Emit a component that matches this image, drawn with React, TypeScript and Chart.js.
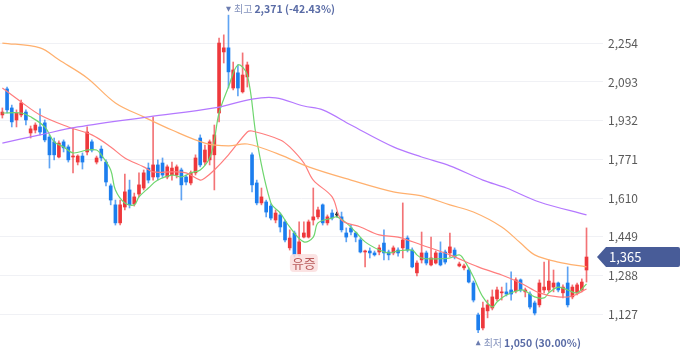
import React, { useEffect, useRef } from "react";
import { Chart, registerables } from "chart.js";
Chart.register(...registerables);

// Daily candles (KRW)
const OPEN = [
  1956, 2064, 1985, 1935, 1956, 1968, 1881, 1893, 1906, 1923,
  1864, 1844, 1781, 1844, 1823, 1781, 1760, 1785, 1802, 1844,
  1760, 1814, 1760, 1661, 1582, 1507, 1573, 1644, 1586, 1627,
  1652, 1735, 1698, 1748, 1756, 1698, 1706, 1706, 1727, 1698,
  1673, 1715, 1860, 1760, 1769, 1790, 1964, 2218, 2235, 2068,
  2131, 2052, 2114, 1790, 1673, 1590, 1594, 1577, 1519, 1540,
  1511, 1403, 1465, 1374, 1448, 1448, 1519, 1532, 1582, 1507,
  1548, 1540, 1532, 1465, 1486, 1465, 1436, 1386, 1390, 1382,
  1386, 1423, 1386, 1382, 1394, 1403, 1444, 1394, 1299, 1353,
  1382, 1332, 1340, 1382, 1386, 1382, 1394, 1328, 1320, 1311,
  1257, 1124, 1070, 1141, 1153, 1191, 1216, 1220, 1228, 1224,
  1270, 1220, 1211, 1174, 1166, 1228, 1228, 1240, 1257, 1216,
  1257, 1199, 1216, 1228, 1311,
];
const CLOSE = [
  1968, 1977, 1927, 1964, 2006, 1935, 1898, 1914, 1885, 1852,
  1790, 1790, 1839, 1819, 1769, 1785, 1785, 1760, 1885, 1810,
  1777, 1777, 1677, 1602, 1507, 1582, 1636, 1582, 1615, 1665,
  1715, 1685, 1748, 1698, 1706, 1740, 1735, 1740, 1665, 1677,
  1715, 1777, 1748, 1810, 1844, 1873, 2255, 2235, 2135, 2143,
  2068, 2122, 2164, 1665, 1590, 1615, 1552, 1527, 1548, 1490,
  1436, 1444, 1374, 1428, 1465, 1511, 1532, 1561, 1507, 1532,
  1527, 1540, 1478, 1448, 1469, 1448, 1386, 1390, 1382, 1374,
  1403, 1382, 1374, 1403, 1382, 1436, 1394, 1324, 1340, 1382,
  1340, 1361, 1382, 1332, 1344, 1407, 1365, 1336, 1328, 1261,
  1186, 1062, 1153, 1166, 1199, 1228, 1220, 1211, 1211, 1270,
  1228, 1228, 1157, 1132, 1257, 1240, 1265, 1257, 1228, 1240,
  1166, 1240, 1249, 1261, 1365,
];
const HIGH = [
  1985, 2072, 1997, 1977, 2018, 1977, 1910, 1923, 1981, 1935,
  1873, 1860, 1848, 1852, 1831, 1902, 1790, 1798, 1906, 1852,
  1785, 1827, 1769, 1669, 1602, 1602, 1710, 1685, 1631, 1715,
  1727, 1756, 1948, 1769, 1777, 1748, 1760, 1748, 1735, 1706,
  1723, 1790, 1873, 1831, 1852, 1914, 2276, 2289, 2371, 2176,
  2164, 2214, 2176, 1798, 1685, 1652, 1602, 1586, 1561, 1548,
  1519, 1478, 1473, 1511, 1511, 1519, 1652, 1573, 1586, 1540,
  1561, 1552, 1552, 1486, 1498, 1469, 1444, 1394, 1403, 1390,
  1415, 1478, 1394, 1411, 1403, 1590, 1453, 1403, 1349, 1469,
  1390, 1448, 1390, 1428, 1394, 1465, 1403, 1344, 1336, 1320,
  1265, 1132, 1178, 1186, 1228, 1240, 1240, 1257, 1303, 1278,
  1274, 1236, 1220, 1182, 1270, 1344, 1353, 1311, 1261, 1249,
  1324, 1249, 1257, 1274, 1486,
];
const LOW = [
  1943, 1964, 1906, 1906, 1948, 1914, 1860, 1881, 1873, 1844,
  1735, 1769, 1777, 1802, 1760, 1715, 1748, 1731, 1790, 1802,
  1752, 1765, 1661, 1582, 1498, 1498, 1561, 1569, 1577, 1615,
  1644, 1673, 1685, 1685, 1694, 1690, 1685, 1694, 1602, 1665,
  1665, 1706, 1740, 1748, 1748, 1644, 1927, 2172, 2068, 2060,
  2035, 2047, 2072, 1636, 1582, 1582, 1532, 1519, 1507, 1469,
  1428, 1394, 1365, 1369, 1444, 1444, 1498, 1523, 1498, 1498,
  1519, 1532, 1469, 1428, 1457, 1428, 1382, 1324, 1361, 1369,
  1374, 1353, 1353, 1374, 1369, 1361, 1386, 1320, 1286, 1340,
  1332, 1328, 1336, 1328, 1336, 1365, 1357, 1324, 1311, 1257,
  1178, 1050, 1062, 1112, 1145, 1182, 1186, 1203, 1186, 1216,
  1220, 1199, 1149, 1124, 1157, 1216, 1220, 1220, 1220, 1195,
  1157, 1191, 1207, 1220, 1261,
];

// Moving averages: [candle index, value]
const MA5: [number, number][] = [
  [0, 1964], [4, 1964], [6, 1948], [9, 1906], [11, 1844], [13, 1823], [15, 1798],
  [18, 1810], [20, 1810], [21, 1790], [23, 1727], [24, 1644], [26, 1590], [28, 1582],
  [29, 1615], [31, 1652], [33, 1685], [36, 1706], [38, 1698], [40, 1715], [42, 1727],
  [44, 1777], [45, 1852], [46, 1964], [48, 2072], [50, 2164], [52, 2122], [54, 1852],
  [57, 1590], [59, 1548], [61, 1490], [64, 1428], [66, 1448], [67, 1507], [70, 1527],
  [71, 1532], [73, 1507], [75, 1469], [77, 1428], [80, 1394], [82, 1382], [84, 1390],
  [87, 1394], [88, 1374], [89, 1361], [91, 1357], [95, 1361], [97, 1374], [98, 1353],
  [100, 1282], [102, 1199], [104, 1157], [105, 1178], [107, 1207], [110, 1228],
  [111, 1224], [113, 1199], [115, 1195], [116, 1216], [118, 1240], [120, 1228],
  [122, 1216], [124, 1253],
];
const MA20: [number, number][] = [
  [0, 2068], [4, 2010], [8, 1956], [14, 1906], [19, 1873], [23, 1823], [26, 1777],
  [30, 1740], [32, 1719], [36, 1719], [39, 1715], [42, 1685], [43, 1694], [45, 1727],
  [48, 1790], [52, 1885], [53, 1889], [59, 1852], [61, 1823], [64, 1756], [66, 1685],
  [70, 1615], [72, 1519], [76, 1490], [80, 1457], [84, 1448], [89, 1415], [95, 1374],
  [101, 1324], [106, 1290], [110, 1257], [114, 1216], [118, 1199], [121, 1203], [124, 1232],
];
const MA60: [number, number][] = [
  [0, 2255], [8, 2235], [12, 2185], [18, 2110], [24, 2006], [30, 1948], [36, 1893],
  [43, 1839], [48, 1827], [52, 1835], [59, 1790], [65, 1740], [74, 1685], [83, 1636],
  [89, 1619], [95, 1582], [100, 1552], [106, 1490], [110, 1423], [113, 1374],
  [118, 1344], [124, 1324],
];
const MA120: [number, number][] = [
  [0, 1839], [8, 1873], [16, 1906], [31, 1948], [45, 1985], [53, 2022], [58, 2027],
  [64, 1993], [68, 1977], [74, 1914], [83, 1823], [89, 1781], [95, 1744], [102, 1685],
  [107, 1652], [114, 1594], [124, 1540],
];

const Y_TICKS = [1127, 1288, 1449, 1610, 1771, 1932, 2093, 2254];
const EVENT_LABEL = "유증";
const EVENT_INDEX = 64;
const SLOTS = 128;

const FONT = '"Noto Sans CJK KR", "Noto Sans", sans-serif';
const UP = "rgb(238, 56, 60)";
const DOWN = "rgb(28, 126, 238)";
const FLAT = "rgb(60, 60, 60)";
const UP_W = "rgba(238, 56, 60, 0.7)";
const DOWN_W = "rgba(28, 126, 238, 0.7)";

const fmt = (v: number) => v.toLocaleString("en-US");

function marker(ctx: CanvasRenderingContext2D, cx: number, cy: number, down: boolean, label: string, value: string) {
  ctx.fillStyle = "#6b7cb0";
  ctx.beginPath();
  if (down) {
    ctx.moveTo(cx - 2.5, cy - 2.5);
    ctx.lineTo(cx + 2.5, cy - 2.5);
    ctx.lineTo(cx, cy + 2.5);
  } else {
    ctx.moveTo(cx - 2.5, cy + 2.5);
    ctx.lineTo(cx + 2.5, cy + 2.5);
    ctx.lineTo(cx, cy - 2.5);
  }
  ctx.closePath();
  ctx.fill();
  ctx.textBaseline = "middle";
  ctx.textAlign = "left";
  ctx.font = `10px ${FONT}`;
  ctx.fillStyle = "#8593bd";
  const x1 = cx + 5.5;
  ctx.fillText(label, x1, cy);
  const w = ctx.measureText(label).width;
  ctx.font = `bold 10.5px ${FONT}`;
  ctx.fillStyle = "#5a6ca6";
  ctx.fillText(value, x1 + w + 2, cy);
}

const annotPlugin = {
  id: "annot",
  afterDatasetsDraw(chart: any) {
    const { ctx, scales } = chart;
    const x = scales.x;
    const y = scales.y;
    const last = CLOSE[CLOSE.length - 1];
    const hi = Math.max(...HIGH);
    const hiIdx = HIGH.indexOf(hi);
    const lo = Math.min(...LOW);
    const loIdx = LOW.indexOf(lo);
    ctx.save();
    const pHi = (((last - hi) / hi) * 100).toFixed(2);
    const pLo = (((last - lo) / lo) * 100).toFixed(2);
    marker(ctx, x.getPixelForValue(hiIdx), y.getPixelForValue(hi) - 6, true, "최고", `${fmt(hi)} (${pHi}%)`);
    marker(ctx, x.getPixelForValue(loIdx), y.getPixelForValue(lo) + 10, false, "최저", `${fmt(lo)} (${pLo}%)`);

    // event label
    const ex = x.getPixelForValue(EVENT_INDEX);
    const ey = y.getPixelForValue(LOW[EVENT_INDEX - 1]) + 7;
    ctx.font = `13px ${FONT}`;
    const tw = ctx.measureText(EVENT_LABEL).width;
    const bw = tw + 4;
    const bh = 18;
    ctx.fillStyle = "rgba(250, 222, 222, 0.85)";
    ctx.beginPath();
    (ctx as any).roundRect(ex - bw / 2, ey - bh / 2, bw, bh, 4);
    ctx.fill();
    ctx.fillStyle = "#b85a5a";
    ctx.textAlign = "center";
    ctx.textBaseline = "middle";
    ctx.fillText(EVENT_LABEL, ex, ey + 0.5);

    // current price tag
    const py = y.getPixelForValue(last);
    const left = chart.chartArea.right - 6;
    ctx.fillStyle = "#485c98";
    ctx.beginPath();
    ctx.moveTo(left, py);
    ctx.lineTo(left + 9, py - 10);
    ctx.lineTo(chart.width - 2, py - 10);
    ctx.quadraticCurveTo(chart.width, py - 10, chart.width, py - 8);
    ctx.lineTo(chart.width, py + 8);
    ctx.quadraticCurveTo(chart.width, py + 10, chart.width - 2, py + 10);
    ctx.lineTo(left + 9, py + 10);
    ctx.closePath();
    ctx.fill();
    ctx.fillStyle = "#ffffff";
    ctx.font = `13px ${FONT}`;
    ctx.textAlign = "left";
    ctx.textBaseline = "middle";
    ctx.fillText(fmt(last), chart.chartArea.right + 6, py + 0.5);
    ctx.restore();
  },
};

export default function App() {
  const ref = useRef<HTMLCanvasElement>(null);
  useEffect(() => {
    const colors = CLOSE.map((c, i) => (c > OPEN[i] ? UP : c < OPEN[i] ? DOWN : FLAT));
    const wickColors = CLOSE.map((c, i) => (c > OPEN[i] ? UP_W : c < OPEN[i] ? DOWN_W : FLAT));
    const line = (data: [number, number][], color: string) => ({
      type: "line" as const,
      data: data.map(([i, v]) => ({ x: i, y: v })),
      borderColor: color,
      borderWidth: 1.2,
      pointRadius: 0,
      tension: 0.35,
      order: 0,
    });
    const chart = new Chart(ref.current!, {
      type: "bar",
      data: {
        datasets: [
          line(MA120, "rgb(180, 120, 255)"),
          line(MA60, "rgb(255, 176, 110)"),
          line(MA20, "rgb(255, 125, 125)"),
          line(MA5, "rgb(110, 214, 110)"),
          {
            type: "bar",
            data: LOW.map((l, i) => ({ x: i, y: [l, HIGH[i]] })) as any,
            backgroundColor: wickColors,
            barThickness: 1,
            grouped: false,
            order: 2,
          },
          {
            type: "bar",
            data: OPEN.map((o, i) => ({ x: i, y: [o, CLOSE[i]] })) as any,
            backgroundColor: colors,
            barThickness: 3,
            minBarLength: 1,
            grouped: false,
            order: 1,
          },
        ] as any,
      },
      options: {
        responsive: false,
        devicePixelRatio: 1,
        animation: false,
        layout: { padding: 0 },
        plugins: { legend: { display: false }, tooltip: { enabled: false } },
        scales: {
          x: { type: "linear", min: -0.5, max: SLOTS - 0.5, offset: false, display: false },
          y: {
            position: "right",
            min: 945,
            max: 2434,
            grid: { color: "#f0f1f5", drawTicks: false },
            border: { display: false },
            ticks: {
              padding: 5,
              color: "#5a5a5a",
              font: { size: 12, family: FONT },
              callback: (v: any) => fmt(Number(v)),
            },
            afterBuildTicks: (s: any) => {
              s.ticks = Y_TICKS.map((v) => ({ value: v }));
            },
            afterFit: (s: any) => {
              s.width = 77;
              s.paddingTop = 0;
              s.paddingBottom = 0;
            },
          },
        },
      } as any,
      plugins: [annotPlugin],
    });
    return () => chart.destroy();
  }, []);
  return (
    <div style={{ position: "absolute", left: 0, top: 0, width: 680, height: 358, background: "#fff" }}>
      <canvas ref={ref} width={680} height={358} style={{ display: "block", width: 680, height: 358 }} />
    </div>
  );
}
